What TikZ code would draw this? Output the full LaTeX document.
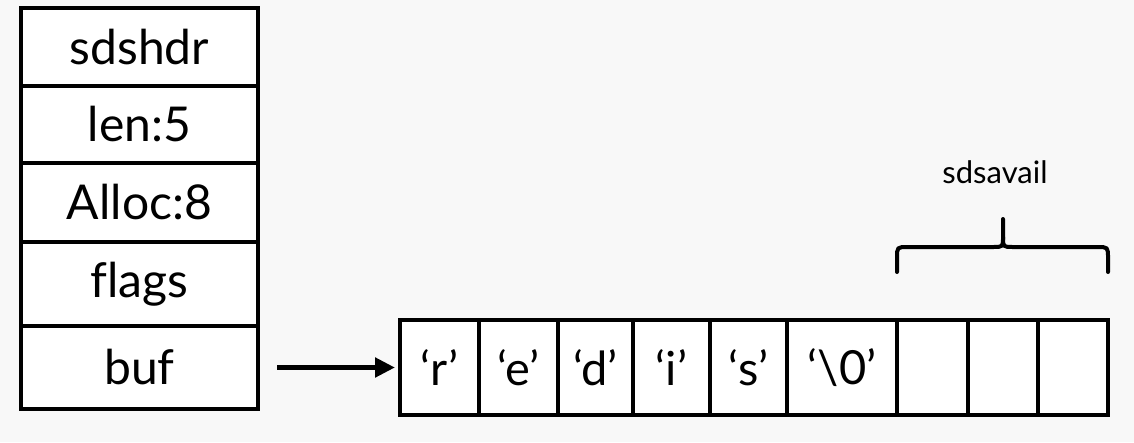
\documentclass[tikz,border=0pt]{standalone}
\usepackage{fontspec}
\setmainfont[Ligatures=NoCommon]{Lato}
\usetikzlibrary{arrows.meta}
\definecolor{bgcol}{HTML}{F8F8F8}
\tikzset{
  field/.style={draw, fill=white, line width=4pt, inner sep=0pt,
    font=\fontsize{48}{52}\selectfont},
  cell/.style={draw, fill=white, line width=4pt, inner sep=0pt,
    minimum height=95pt, font=\fontsize{47}{52}\selectfont},
  pointer/.style={line width=5pt, -{Triangle[length=20pt,width=19pt]}},
  bracestroke/.style={line width=4pt, line cap=round, line join=round},
}
\begin{document}
\begin{tikzpicture}[x=1pt,y=-1pt]
  \fill[bgcol] (0,0) rectangle (1134,442);
  \useasboundingbox (0,0) rectangle (1134,442);

  % header fields of the sds struct
  \node[field, minimum width=237pt, minimum height=78pt] (hdr)   at (139.5,47)    {sdshdr};
  \node[field, minimum width=237pt, minimum height=77pt] (len)   at (139.5,124.5) {len:5};
  \node[field, minimum width=237pt, minimum height=79pt] (alloc) at (139.5,202.5) {Alloc:8};
  \node[field, minimum width=237pt, minimum height=84pt] (flags) at (139.5,284)   {flags};
  \node[field, minimum width=237pt, minimum height=83pt] (buf)   at (139.5,367.5) {buf};

  % character buffer
  \node[cell, minimum width=79pt]  (c1) at (439.5,367.5) {‘r’};
  \node[cell, minimum width=79pt]  (c2) at (518.5,367.5) {‘e’};
  \node[cell, minimum width=75pt]  (c3) at (595.5,367.5) {‘d’};
  \node[cell, minimum width=77pt]  (c4) at (671.5,367.5) {‘i’};
  \node[cell, minimum width=77pt]  (c5) at (748.5,367.5) {‘s’};
  \node[cell, minimum width=110pt] (c6) at (842,367.5)   {‘\textbackslash 0’};
  \node[cell, minimum width=71pt]  (c7) at (932.5,367.5) {};
  \node[cell, minimum width=70pt]  (c8) at (1003,367.5)  {};
  \node[cell, minimum width=70pt]  (c9) at (1073,367.5)  {};

  % buf points at the first character
  \draw[pointer, shorten <=17pt, shorten >=3pt] (buf.east) -- (c1.west);

  % brace over the free space
  \coordinate (bl) at (897,272);
  \coordinate (br) at (1108,272);
  \coordinate (bt) at (1003,219);
  \draw[bracestroke] (bl) -- (897,258) .. controls (897,247) .. (908,247)
        -- (993,247) .. controls (1003,247) .. (1003,237) -- (bt);
  \draw[bracestroke] (br) -- (1108,258) .. controls (1108,247) .. (1097,247)
        -- (1013,247) .. controls (1003,247) .. (1003,237);
  \node[font=\fontsize{31}{34}\selectfont] (avail) at (995,172) {sdsavail};
\end{tikzpicture}
\end{document}
